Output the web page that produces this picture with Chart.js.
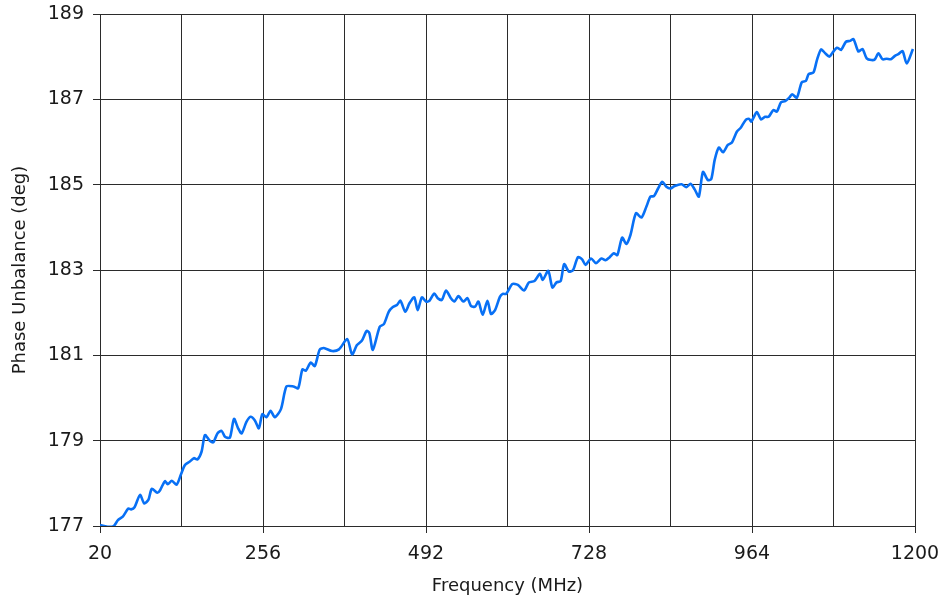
<!DOCTYPE html>
<html>
<head>
<meta charset="utf-8">
<script src="https://cdn.jsdelivr.net/npm/chart.js@4.4.0/dist/chart.umd.min.js"></script>
<style>
  html, body { margin: 0; padding: 0; background: #fff; }
  #wrap { width: 945px; height: 600px; }
</style>
</head>
<body>
<div id="wrap"><canvas id="chart" width="945" height="600"></canvas></div>
<script>
// frequency (MHz) and phase unbalance (deg)
const frequencyMHz = [
  20, 26, 33, 40, 46, 53, 61, 65, 70, 78,
  84, 90, 95, 103, 107, 114, 118, 124, 131, 137,
  143, 150, 156, 161, 167, 172, 179, 184, 190, 196,
  201, 208, 214, 220, 225, 232, 238, 244, 250, 255,
  261, 267, 273, 282, 290, 300, 307, 313, 318, 325,
  331, 338, 344, 356, 366, 378, 385, 392, 399, 406,
  410, 415, 425, 431, 438, 444, 450, 455, 462, 468,
  475, 480, 486, 492, 497, 504, 509, 515, 521, 528,
  533, 539, 546, 552, 557, 563, 568, 574, 581, 586,
  592, 599, 603, 608, 617, 625, 634, 641, 649, 657,
  661, 669, 675, 681, 687, 692, 699, 705, 712, 718,
  723, 731, 738, 746, 752, 758, 764, 769, 776, 782,
  788, 796, 804, 811, 817, 822, 828, 834, 840, 846,
  852, 862, 869, 875, 881, 887, 893, 900, 905, 910,
  916, 922, 929, 935, 942, 948, 955, 960, 963, 971,
  977, 983, 988, 995, 1000, 1006, 1012, 1018, 1022, 1029,
  1036, 1042, 1046, 1053, 1058, 1064, 1070, 1076, 1080, 1087,
  1093, 1100, 1106, 1111, 1118, 1124, 1130, 1137, 1142, 1147,
  1153, 1159, 1165, 1171, 1176, 1182, 1188, 1197
];
const phaseDeg = [
  177.02, 177.00, 176.98, 177.00, 177.14, 177.22, 177.41, 177.39, 177.44, 177.73,
  177.53, 177.61, 177.87, 177.78, 177.84, 178.05, 177.98, 178.06, 177.97, 178.20,
  178.43, 178.51, 178.59, 178.56, 178.74, 179.13, 179.00, 178.96, 179.17, 179.23,
  179.09, 179.07, 179.51, 179.29, 179.17, 179.44, 179.56, 179.48, 179.29, 179.62,
  179.55, 179.70, 179.55, 179.74, 180.27, 180.27, 180.23, 180.67, 180.64, 180.83,
  180.75, 181.13, 181.17, 181.10, 181.14, 181.38, 181.02, 181.24, 181.34, 181.57,
  181.52, 181.13, 181.67, 181.73, 182.02, 182.13, 182.18, 182.28, 182.02, 182.22,
  182.36, 182.06, 182.36, 182.26, 182.28, 182.45, 182.34, 182.30, 182.52, 182.34,
  182.26, 182.39, 182.26, 182.34, 182.16, 182.14, 182.26, 181.95, 182.28, 181.97,
  182.06, 182.37, 182.44, 182.44, 182.67, 182.65, 182.52, 182.71, 182.74, 182.91,
  182.77, 182.98, 182.59, 182.71, 182.74, 183.14, 182.96, 183.00, 183.30, 183.25,
  183.12, 183.27, 183.16, 183.27, 183.23, 183.30, 183.39, 183.35, 183.76, 183.61,
  183.82, 184.33, 184.23, 184.48, 184.72, 184.73, 184.91, 185.07, 184.95, 184.91,
  184.97, 185.01, 184.94, 185.02, 184.89, 184.72, 185.30, 185.11, 185.13, 185.58,
  185.87, 185.76, 185.93, 185.99, 186.24, 186.34, 186.52, 186.54, 186.48, 186.70,
  186.53, 186.59, 186.59, 186.75, 186.71, 186.93, 186.96, 187.04, 187.12, 187.04,
  187.40, 187.43, 187.59, 187.63, 187.92, 188.17, 188.08, 188.00, 188.08, 188.21,
  188.16, 188.35, 188.37, 188.41, 188.12, 188.18, 187.96, 187.92, 187.94, 188.08,
  187.94, 187.95, 187.94, 188.02, 188.06, 188.13, 187.84, 188.18
];
const xTickLabels = [20, 256, 492, 728, 964, 1200];
const yTickLabels = [177, 179, 181, 183, 185, 187, 189];

const gridColor = "#2b2b2b";
const textColor = "#1a1a1a";
const tickFont = { family: "'DejaVu Sans', Verdana, sans-serif", size: 19 };
const titleFont = { family: "'DejaVu Sans', Verdana, sans-serif", size: 18 };

const points = frequencyMHz.map((f, i) => ({ x: f, y: phaseDeg[i] }));

new Chart(document.getElementById("chart"), {
  type: "line",
  data: {
    datasets: [{
      data: points,
      borderColor: "#0870f5",
      borderWidth: 2.6,
      pointRadius: 0,
      tension: 0.25,
      fill: false
    }]
  },
  options: {
    responsive: false,
    animation: false,
    layout: { padding: { top: 14, right: 30, left: 0, bottom: 0 } },
    plugins: { legend: { display: false }, tooltip: { enabled: false } },
    scales: {
      x: {
        type: "linear",
        min: 20,
        max: 1200,
        afterFit: (scale) => {
          scale.height = 74;
          scale.paddingLeft = 0;
          scale.paddingRight = 0;
        },
        ticks: {
          stepSize: 118,
          autoSkip: false,
          maxRotation: 0,
          padding: 10,
          color: textColor,
          font: tickFont,
          callback: (value) => xTickLabels.includes(value) ? String(value) : ""
        },
        grid: {
          color: gridColor,
          lineWidth: 1,
          tickLength: 7,
          tickColor: (ctx) => ctx.tick && xTickLabels.includes(ctx.tick.value) ? gridColor : "rgba(0,0,0,0)"
        },
        border: { color: gridColor, width: 1 },
        title: {
          display: true,
          text: "Frequency (MHz)",
          color: textColor,
          font: titleFont,
          padding: { top: 0, bottom: 3 }
        }
      },
      y: {
        min: 177,
        max: 189,
        afterFit: (scale) => {
          scale.width = 100;
          scale.paddingTop = 0;
          scale.paddingBottom = 0;
        },
        ticks: {
          stepSize: 2,
          padding: 9,
          color: textColor,
          font: tickFont,
          callback: (value) => yTickLabels.includes(value) ? String(value) : ""
        },
        grid: { color: gridColor, lineWidth: 1, tickLength: 7, tickColor: gridColor },
        border: { color: gridColor, width: 1 },
        title: {
          display: true,
          text: "Phase Unbalance (deg)",
          color: textColor,
          font: titleFont,
          padding: { top: 10, bottom: 0 }
        }
      }
    }
  }
});
</script>
</body>
</html>
